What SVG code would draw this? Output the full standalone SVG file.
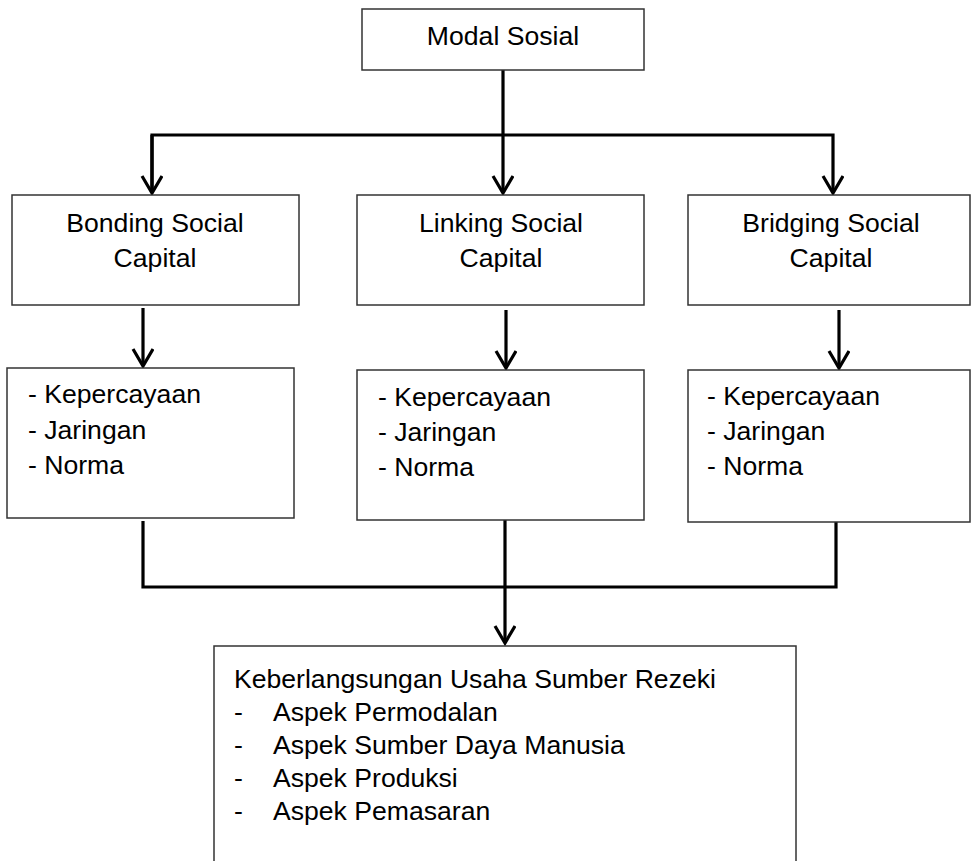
<svg xmlns="http://www.w3.org/2000/svg" width="971" height="861" viewBox="0 0 971 861">
<defs>
<style>
.box{fill:#fff;stroke:#333;stroke-width:1.5}
.t{font-family:"Liberation Sans",Arial,sans-serif;font-size:26.6px;fill:#000}
.c{text-anchor:middle}
.ln{fill:none;stroke:#000;stroke-width:3.2}
</style>
<marker id="v" markerWidth="26" markerHeight="26" refX="18" refY="11" orient="auto" markerUnits="userSpaceOnUse">
<path d="M1,1 L18,11 L1,21" fill="none" stroke="#000" stroke-width="3.2"/>
</marker>
</defs>
<rect width="971" height="861" fill="#fff"/>
<g id="connectors">
<line class="ln" x1="503" y1="70" x2="503" y2="193" marker-end="url(#v)"/>
<polyline class="ln" points="152,193 152,135 833,135 833,193" marker-end="url(#v)"/>
<line class="ln" x1="152" y1="135" x2="152" y2="193" marker-end="url(#v)"/>
<line class="ln" x1="143" y1="308" x2="143" y2="366" marker-end="url(#v)"/>
<line class="ln" x1="506" y1="310" x2="506" y2="368" marker-end="url(#v)"/>
<line class="ln" x1="839" y1="310" x2="839" y2="368" marker-end="url(#v)"/>
<polyline class="ln" points="143,521 143,587 836,587 836,522"/>
<line class="ln" x1="505" y1="520" x2="505" y2="643" marker-end="url(#v)"/>
</g>
<g id="modal-sosial">
<rect class="box" x="362" y="9" width="282" height="61"/>
<text class="t c" x="503" y="45">Modal Sosial</text>
</g>
<g id="bonding">
<rect class="box" x="12" y="195" width="287" height="110"/>
<text class="t c" x="155" y="232">Bonding Social</text>
<text class="t c" x="155" y="266.5">Capital</text>
</g>
<g id="linking">
<rect class="box" x="357" y="195" width="287" height="110"/>
<text class="t c" x="501" y="232">Linking Social</text>
<text class="t c" x="501" y="266.5">Capital</text>
</g>
<g id="bridging">
<rect class="box" x="688" y="195" width="282" height="110"/>
<text class="t c" x="831" y="232">Bridging Social</text>
<text class="t c" x="831" y="266.5">Capital</text>
</g>
<g id="bonding-list">
<rect class="box" x="7" y="368" width="287" height="150"/>
<text class="t" x="28" y="403">- Kepercayaan</text>
<text class="t" x="28" y="438.5">- Jaringan</text>
<text class="t" x="28" y="474">- Norma</text>
</g>
<g id="linking-list">
<rect class="box" x="357" y="370" width="287" height="150"/>
<text class="t" x="378" y="406">- Kepercayaan</text>
<text class="t" x="378" y="441">- Jaringan</text>
<text class="t" x="378" y="476">- Norma</text>
</g>
<g id="bridging-list">
<rect class="box" x="688" y="370" width="282" height="152"/>
<text class="t" x="707" y="405">- Kepercayaan</text>
<text class="t" x="707" y="440">- Jaringan</text>
<text class="t" x="707" y="475">- Norma</text>
</g>
<g id="keberlangsungan">
<rect class="box" x="214" y="646" width="582" height="240"/>
<text class="t" x="234" y="688">Keberlangsungan Usaha Sumber Rezeki</text>
<text class="t" x="234" y="721">-</text>
<text class="t" x="273" y="721">Aspek Permodalan</text>
<text class="t" x="234" y="754">-</text>
<text class="t" x="273" y="754">Aspek Sumber Daya Manusia</text>
<text class="t" x="234" y="787">-</text>
<text class="t" x="273" y="787">Aspek Produksi</text>
<text class="t" x="234" y="820">-</text>
<text class="t" x="273" y="820">Aspek Pemasaran</text>
</g>
</svg>
